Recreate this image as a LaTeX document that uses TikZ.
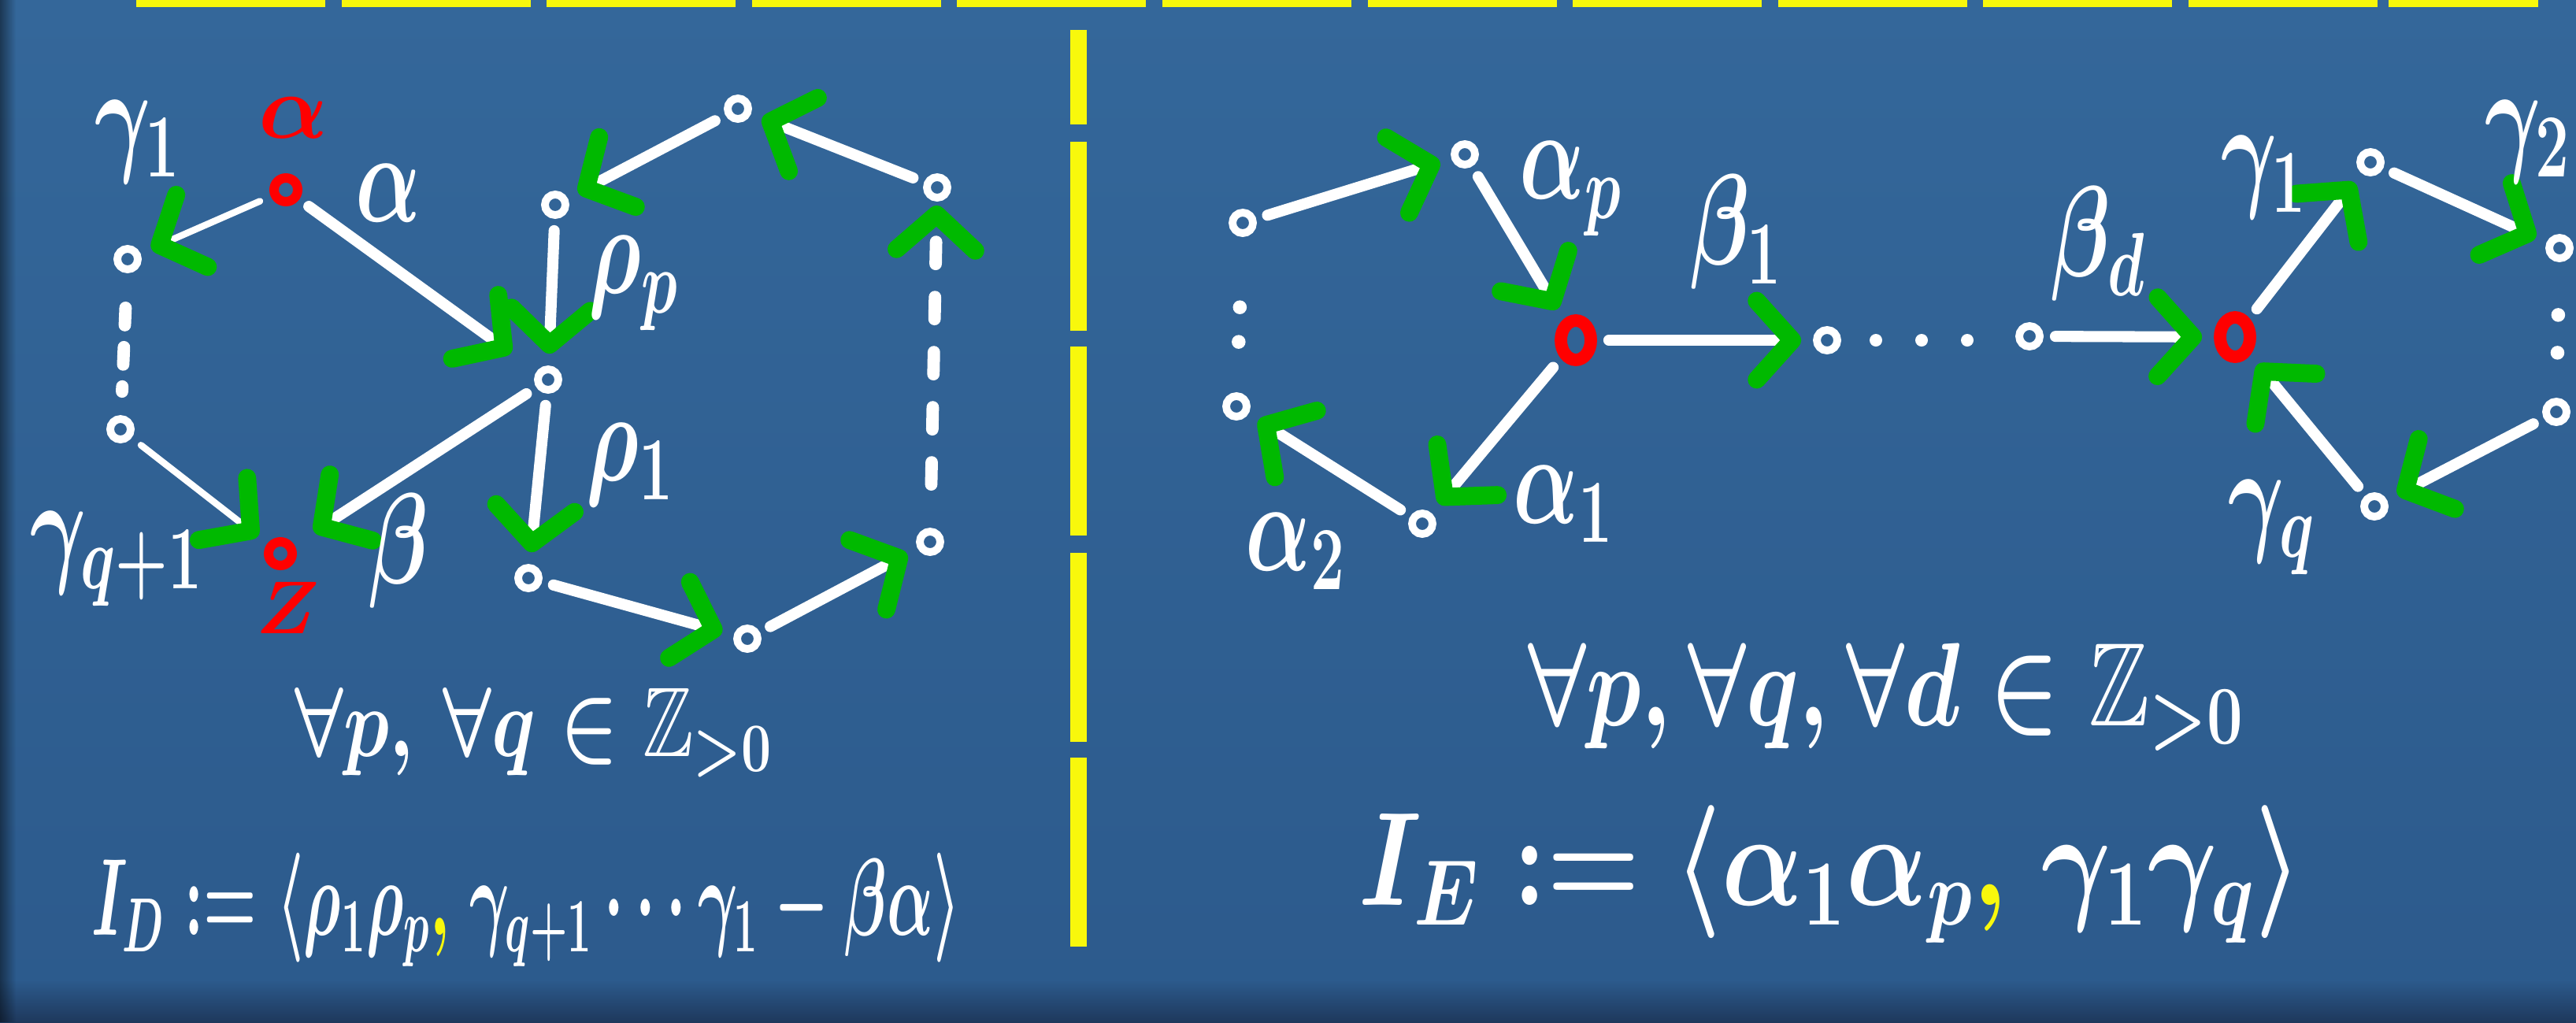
\documentclass[tikz,border=0pt]{standalone}
\usepackage{fix-cm}
\usepackage{amssymb}
\usepackage{graphicx}
\usetikzlibrary{arrows.meta,shapes.geometric,fadings}
\definecolor{bgtop}{RGB}{52,103,154}
\definecolor{bgbot}{RGB}{44,90,140}
\definecolor{bgdark}{RGB}{30,56,92}
\definecolor{hlyellow}{RGB}{248,248,12}
\definecolor{mkgreen}{RGB}{0,185,0}
\definecolor{mkred}{RGB}{255,0,0}
\newcommand{\tall}[2]{\scalebox{1}[#1]{#2}}
\newcommand{\hw}[1]{\scalebox{1}[1.5]{#1}}
\begin{document}
\begin{tikzpicture}[
  >={Straight Barb[length=4.5mm,width=10mm,line width=6.5pt,round,color=mkgreen]},
  vtx/.style={circle,draw=white,line width=2.8pt,inner sep=0pt,minimum size=2.6mm},
  rvtx/.style={vtx,draw=mkred,line width=3.4pt,minimum size=3mm},
  rbig/.style={ellipse,draw=mkred,line width=4.5pt,inner sep=0pt,minimum width=3.8mm,minimum height=5mm},
  link/.style={white,line width=4pt,line cap=round,shorten <=1.5mm,shorten >=1.5mm},
  thinlink/.style={link,line width=2.4pt},
  dashlink/.style={white,line width=4.5pt,line cap=round},
  dotlink/.style={white,line width=5pt,line cap=round},
  lbl/.style={text=white,font=\fontsize{31}{35}\selectfont\boldmath,inner sep=0pt},
  rlbl/.style={lbl,text=mkred,font=\fontsize{33}{37}\selectfont\boldmath},
  formula/.style={text=white,inner sep=0pt}
]
\useasboundingbox (0,0) rectangle (32.71,-12.98);
\shade[top color=bgtop,bottom color=bgbot] (0,0) rectangle (32.71,-12.98);
\shade[top color=bgbot,bottom color=bgdark] (0,-12.45) rectangle (32.71,-12.98);
\fill[black,opacity=.45,path fading=east] (0,0) rectangle (0.2,-12.98);

\foreach \i in {0,...,10}
  \fill[hlyellow] ({1.73+2.606*\i},0) rectangle ({4.13+2.606*\i},-0.09);
\fill[hlyellow] (30.33,0) rectangle (32.23,-0.09);
\fill[hlyellow] (13.59,-0.38) rectangle (13.80,-1.58);
\foreach \y in {1.80,4.40,7.02,9.62}
  \fill[hlyellow] (13.59,-\y) rectangle (13.80,-\y-2.40);

% left graph
\node[rvtx](a0) at (3.63,-2.41){};
\node[vtx](g1) at (1.62,-3.29){};
\node[vtx](gq) at (1.53,-5.45){};
\node[rvtx](z0) at (3.56,-7.03){};
\node[vtx](c0) at (6.96,-4.82){};
\node[vtx](r1) at (7.05,-2.60){};
\node[vtx](r2) at (9.37,-1.38){};
\node[vtx](r3) at (11.90,-2.38){};
\node[vtx](r4) at (11.81,-6.88){};
\node[vtx](r5) at (9.49,-8.11){};
\node[vtx](r6) at (6.71,-7.34){};
\draw[thinlink,->](a0) -- (g1);
\draw[dashlink,dash pattern=on 2.2mm off 2.8mm,shorten <=4.4mm,shorten >=3mm](g1) -- (gq);
\draw[thinlink,->](gq) -- (z0);
\draw[link,->,shorten >=4mm](a0) -- (c0);
\draw[link,->,shorten >=3mm](c0) -- (z0);
\draw[link,->](r1) -- (c0);
\draw[link,->](c0) -- (r6);
\draw[link,->](r6) -- (r5);
\draw[link,->](r5) -- (r4);
\draw[dashlink,->,dash pattern=on 2.8mm off 4.2mm,shorten <=5.5mm,shorten >=0.5mm](r4) -- (r3);
\draw[link,->](r3) -- (r2);
\draw[link,->](r2) -- (r1);
\node[rlbl](la0) at (3.73,-1.50){$\alpha$};
\node[lbl](lg1) at (1.75,-1.8){\hw{$\gamma_1$}};
\node[lbl](la) at (4.93,-2.45){\hw{$\alpha$}};
\node[lbl](lgq) at (1.48,-7.1){\hw{$\gamma_{q+1}$}};
\node[rlbl,font=\fontsize{27}{31}\selectfont\boldmath](lz0) at (3.65,-7.72){$Z$};
\node[lbl](lb) at (5.06,-7.0){\hw{$\beta$}};
\node[lbl](lrp) at (8.05,-3.6){\hw{$\rho_p$}};
\node[lbl](lr1) at (8.0,-5.9){\hw{$\rho_1$}};
\node[formula,font=\fontsize{27.5}{31}\selectfont\boldmath](qD) at (6.78,-9.30){\tall{1.3}{$\forall p,\,\forall q\in\mathbb{Z}_{>0}$}};
\node[formula,font=\fontsize{22}{26}\selectfont\boldmath](iD) at (6.68,-11.55){\tall{1.8}{$I_D:=\langle\rho_1\rho_p{\color{hlyellow}\mathbf{,}}\;\gamma_{q+1}\cdots\gamma_1-\beta\alpha\rangle$}};

% right graph
\node[vtx](s0) at (15.78,-2.83){};
\node[vtx](ap) at (18.60,-1.96){};
\node[rbig](e0) at (20.01,-4.32){};
\node[vtx](b1) at (23.20,-4.32){};
\node[vtx](bd) at (25.77,-4.27){};
\node[rbig](e1) at (28.38,-4.28){};
\node[vtx](h1) at (30.10,-2.06){};
\node[vtx](h2) at (32.50,-3.15){};
\node[vtx](h3) at (32.46,-5.23){};
\node[vtx](hq) at (30.15,-6.43){};
\node[vtx](a1) at (18.06,-6.65){};
\node[vtx](a2) at (15.70,-5.16){};
\draw[link,->](s0) -- (ap);
\draw[link,->](ap) -- (e0);
\draw[link,->](e0) -- (b1);
\foreach \x in {23.82,24.40,24.98}
  \fill[white] (\x,-4.32) circle (0.08);
\draw[link,->](bd) -- (e1);
\draw[link,->](e1) -- (h1);
\draw[link,->](h1) -- (h2);
\draw[dotlink,dash pattern=on 0pt off 4.8mm,shorten <=6.7mm,shorten >=3.3mm](h2) -- (h3);
\draw[link,->](h3) -- (hq);
\draw[link,->](hq) -- (e1);
\draw[link,->](e0) -- (a1);
\draw[link,->](a1) -- (a2);
\draw[dotlink,dash pattern=on 0pt off 4.4mm,shorten <=6.4mm,shorten >=7.2mm](a2) -- (s0);
\node[lbl](lap) at (19.95,-2.4){\hw{$\alpha_p$}};
\node[lbl](lb1) at (22.05,-2.95){\hw{$\beta_1$}};
\node[lbl](lbd) at (26.65,-3.1){\hw{$\beta_d$}};
\node[lbl](lh1) at (28.75,-2.25){\hw{$\gamma_1$}};
\node[lbl](lh2) at (32.1,-1.8){\hw{$\gamma_2$}};
\node[lbl](lhq) at (28.85,-6.7){\hw{$\gamma_q$}};
\node[lbl](la1) at (19.85,-6.4){\hw{$\alpha_1$}};
\node[lbl](la2) at (16.45,-7.0){\hw{$\alpha_2$}};
\node[formula,font=\fontsize{33}{37}\selectfont\boldmath](qE) at (23.95,-8.85){\tall{1.3}{$\forall p,\forall q,\forall d\in\mathbb{Z}_{>0}$}};
\node[formula,font=\fontsize{38.5}{42}\selectfont\boldmath](iE) at (23.25,-11.10){\tall{1.25}{$I_E:=\langle\alpha_1\alpha_p{\color{hlyellow}\mathbf{,}}\;\gamma_1\gamma_q\rangle$}};
\end{tikzpicture}
\end{document}
